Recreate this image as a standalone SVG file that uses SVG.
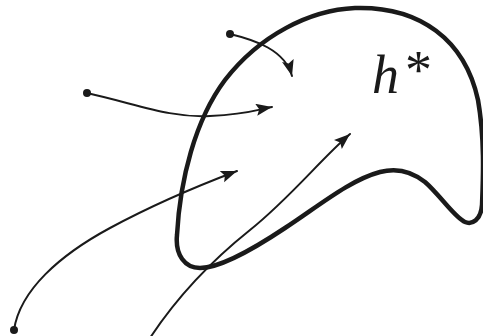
<svg xmlns="http://www.w3.org/2000/svg" width="483" height="336" viewBox="0 0 483 336">
<style>
.c{fill:none;stroke:#1a1a1a;stroke-width:2;stroke-linecap:round}
.d{fill:#1a1a1a}
.blob{fill:none;stroke:#1a1a1a;stroke-width:4.5;stroke-linejoin:round}
.lbl{font-family:"Liberation Serif","Times New Roman",serif;fill:#1a1a1a}
</style>
<defs>
<marker id="ah" markerUnits="userSpaceOnUse" markerWidth="18" markerHeight="14" refX="16" refY="6" orient="auto">
<path d="M0,0 L16,6 L0,12 L3,6 Z" fill="#1a1a1a"/>
</marker>
</defs>
<g id="region">
<path class="blob" d="M 200,268 C 185,268 175,255 177,235 C 180,180 195,120 225,80 C 260,35 310,10 355,8 C 420,6 465,40 478,100 C 485,140 483,180 482,205 C 481,220 472,225 465,222 C 455,218 440,195 425,182 C 410,170 395,168 380,172 C 350,180 320,205 285,228 C 255,248 220,268 200,268 Z"/>
<text class="lbl" x="372" y="93" font-size="54" font-style="italic">h</text>
<text class="lbl" x="405" y="88" font-size="54">*</text>
</g>
<g id="connectors">
<path class="c" d="M 230,34 C 255,40 285,50 292,76" marker-end="url(#ah)"/>
<path class="c" d="M 87,93 C 140,105 170,118 210,116 S 255,110 272,107" marker-end="url(#ah)"/>
<path class="c" d="M 14,330 C 20,290 60,255 110,228 S 200,185 237,171" marker-end="url(#ah)"/>
<path class="c" d="M 150,338 C 175,300 210,262 250,230 S 320,160 350,134" marker-end="url(#ah)"/>
<circle class="d" cx="230" cy="34" r="4"/>
<circle class="d" cx="87" cy="93" r="4"/>
<circle class="d" cx="14" cy="330" r="4"/>
</g>
</svg>
